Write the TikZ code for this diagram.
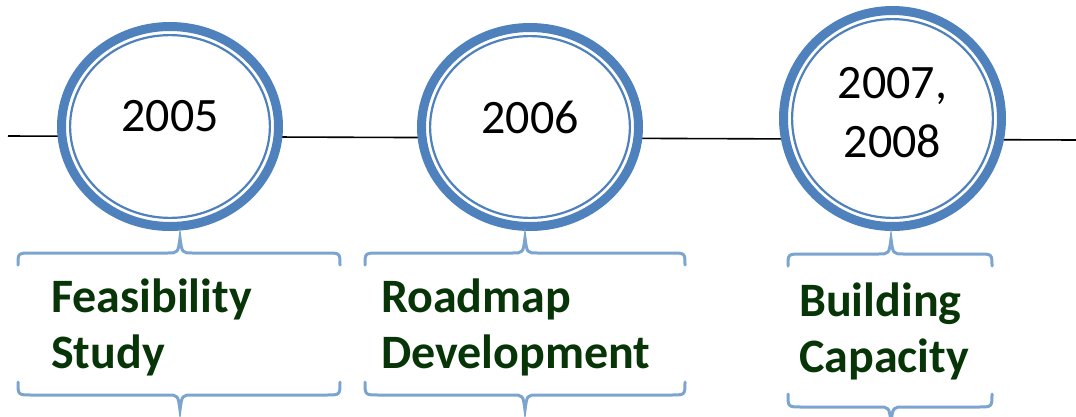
\documentclass[tikz,border=0pt]{standalone}
\usepackage{fontspec}
\setmainfont{Carlito}
\usetikzlibrary{shapes.geometric}
\begin{document}
\begin{tikzpicture}[x=1pt,y=-1pt]
 \definecolor{ringblue}{HTML}{4F81BD}
 \definecolor{braceblue}{HTML}{7BA4CF}
 \definecolor{phasegreen}{HTML}{073507}
 \tikzset{
  yearring/.style={ellipse,draw=ringblue,line width=9pt,fill=white,inner sep=0pt},
  innerring/.style={draw=ringblue,line width=2.2pt},
  yeartext/.style={font=\fontsize{48}{59}\selectfont,align=center},
  phase/.style={font=\fontsize{48}{56}\selectfont\bfseries,text=phasegreen,align=left,anchor=north west,inner sep=0pt},
  bracket/.style={draw=braceblue,line width=3pt,line cap=round}
 }
 \useasboundingbox (0,0) rectangle (1076,416);
 % time line
 \coordinate (start) at (8,136);
 \coordinate (end) at (1076,140);
 \draw [line width=1.6pt] (start) -- (end);
 % the years
 \node [yearring,minimum width=217pt,minimum height=200pt] (c1) at (170,126.5) {};
 \node [yearring,minimum width=217pt,minimum height=199pt] (c2) at (530,127) {};
 \node [yearring,minimum width=218pt,minimum height=216pt] (c3) at (892.5,118.5) {};
 \draw [innerring] (c1.center) ellipse [x radius=99.9pt,y radius=91.4pt];
 \draw [innerring] (c2.center) ellipse [x radius=99.9pt,y radius=90.9pt];
 \draw [innerring] (c3.center) ellipse [x radius=100.4pt,y radius=99.4pt];
 \node [yeartext] (t1) at ([yshift=10pt]c1.center) {2005};
 \node [yeartext] (t2) at ([yshift=10pt]c2.center) {2006};
 \node [yeartext] (t3) at ([yshift=6pt]c3.center) {2007,\\2008};
 % brackets round the phases
 \foreach \l/\m/\r/\t/\b in {18/180/340/253/395, 365/525/685/253/395, 788/891/992/254/407} {
  \draw [bracket] (\l,\t+12) .. controls (\l,\t) .. (\l+14,\t) -- (\m-13,\t)
   .. controls (\m-2,\t) .. (\m,\t-15) .. controls (\m+2,\t) .. (\m+13,\t) -- (\r-14,\t)
   .. controls (\r,\t) .. (\r,\t+12);
  \draw [bracket] (\l,\b-13) .. controls (\l,\b) .. (\l+14,\b) -- (\m-13,\b)
   .. controls (\m-2,\b) .. (\m,\b+15) .. controls (\m+2,\b) .. (\m+13,\b) -- (\r-14,\b)
   .. controls (\r,\b) .. (\r,\b-13);
 }
 % the phases
 \node [phase] (p1) at (51,279) {Feasibility\\Study};
 \node [phase] (p2) at (381,279) {Roadmap\\Development};
 \node [phase] (p3) at (799,283) {Building\\Capacity};
\end{tikzpicture}
\end{document}
